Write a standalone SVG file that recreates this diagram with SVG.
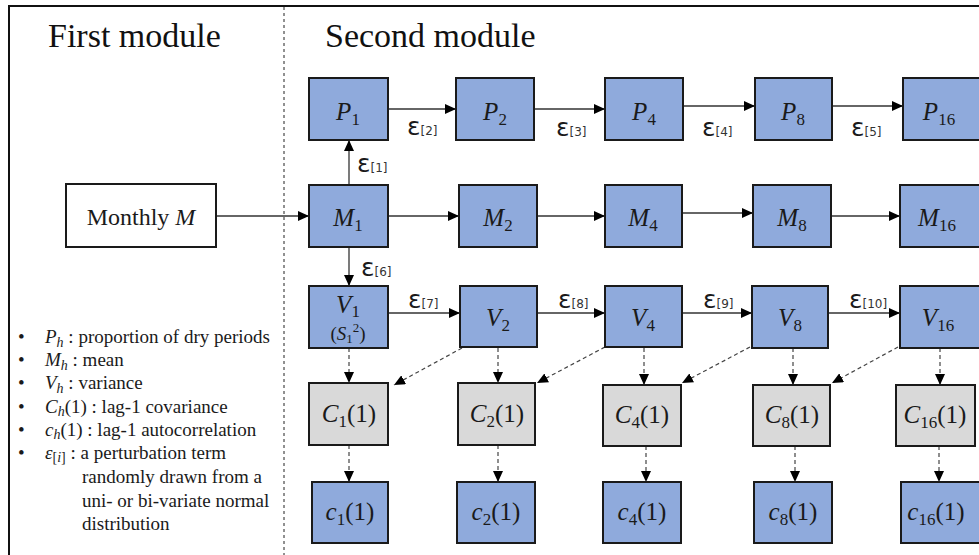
<svg xmlns="http://www.w3.org/2000/svg" width="979" height="555" viewBox="0 0 979 555">
<style>
.frame{stroke:#111;stroke-width:2;fill:none}
.div{stroke:#222;stroke-width:1;stroke-dasharray:3 3;fill:none}
.title{font-family:"Liberation Serif",serif;font-size:34px;fill:#111}
.bx{fill:#8FAADC;stroke:#1a1a1a;stroke-width:2}
.gx{fill:#D9D9D9;stroke:#1a1a1a;stroke-width:2}
.wx{fill:#fff;stroke:#1a1a1a;stroke-width:2}
.lab{font-family:"Liberation Serif",serif;font-size:25px;fill:#1a1a1a;text-anchor:middle}
.it{font-style:italic}
.sub{font-size:17px}
.eps{font-family:"DejaVu Sans",sans-serif;font-size:25px;fill:#1a1a1a}
.eps tspan{font-size:12px;fill:#333}
.ln{stroke:#333;stroke-width:1.3;fill:none}
.dl{stroke:#444;stroke-width:1.2;stroke-dasharray:4 3;fill:none}
.leg{font-family:"Liberation Serif",serif;font-size:19px;fill:#1a1a1a}
</style>
<defs>
<marker id="ah" markerUnits="userSpaceOnUse" markerWidth="12" markerHeight="10" refX="11" refY="5" orient="auto">
<path d="M0,0 L11,5 L0,10 z" fill="#000"/>
</marker>
</defs>

<path class="frame" d="M9,555 L9,6 L979,6"/>
<line class="div" x1="284" y1="7" x2="284" y2="555"/>
<text class="title" x="48" y="47">First module</text>
<text class="title" x="325" y="47">Second module</text>

<g id="connectors">
<line class="ln" x1="216" y1="216" x2="309" y2="216" marker-end="url(#ah)"/>
<line class="ln" x1="349" y1="185" x2="349" y2="140" marker-end="url(#ah)"/>
<line class="ln" x1="349" y1="247" x2="349" y2="286" marker-end="url(#ah)"/>
<line class="ln" x1="388" y1="109" x2="456" y2="109" marker-end="url(#ah)"/>
<line class="ln" x1="534" y1="109" x2="605" y2="109" marker-end="url(#ah)"/>
<line class="ln" x1="683" y1="106" x2="755" y2="106" marker-end="url(#ah)"/>
<line class="ln" x1="832" y1="106" x2="903" y2="106" marker-end="url(#ah)"/>
<line class="ln" x1="388" y1="216" x2="459" y2="216" marker-end="url(#ah)"/>
<line class="ln" x1="537" y1="216" x2="605" y2="216" marker-end="url(#ah)"/>
<line class="ln" x1="682" y1="213" x2="753" y2="213" marker-end="url(#ah)"/>
<line class="ln" x1="831" y1="216" x2="900" y2="216" marker-end="url(#ah)"/>
<line class="ln" x1="388" y1="313" x2="460" y2="313" marker-end="url(#ah)"/>
<line class="ln" x1="537" y1="313" x2="605" y2="313" marker-end="url(#ah)"/>
<line class="ln" x1="682" y1="313" x2="752" y2="313" marker-end="url(#ah)"/>
<line class="ln" x1="828" y1="313" x2="900" y2="313" marker-end="url(#ah)"/>
<line class="dl" x1="349" y1="348" x2="349" y2="383" marker-end="url(#ah)"/>
<line class="dl" x1="498" y1="348" x2="498" y2="383" marker-end="url(#ah)"/>
<line class="dl" x1="644" y1="348" x2="644" y2="385" marker-end="url(#ah)"/>
<line class="dl" x1="793" y1="348" x2="793" y2="385" marker-end="url(#ah)"/>
<line class="dl" x1="940" y1="348" x2="940" y2="385" marker-end="url(#ah)"/>
<line class="dl" x1="349" y1="445" x2="349" y2="482" marker-end="url(#ah)"/>
<line class="dl" x1="498" y1="445" x2="498" y2="482" marker-end="url(#ah)"/>
<line class="dl" x1="646" y1="446" x2="646" y2="482" marker-end="url(#ah)"/>
<line class="dl" x1="795" y1="446" x2="795" y2="482" marker-end="url(#ah)"/>
<line class="dl" x1="939" y1="446" x2="939" y2="482" marker-end="url(#ah)"/>
<line class="dl" x1="462" y1="348" x2="394" y2="385" marker-end="url(#ah)"/>
<line class="dl" x1="605" y1="347" x2="537" y2="383" marker-end="url(#ah)"/>
<line class="dl" x1="750" y1="347" x2="682" y2="383" marker-end="url(#ah)"/>
<line class="dl" x1="898" y1="347" x2="832" y2="383" marker-end="url(#ah)"/>
<text class="eps" x="357" y="172">ε<tspan>[1]</tspan></text>
<text class="eps" x="407" y="135">ε<tspan>[2]</tspan></text>
<text class="eps" x="556" y="136">ε<tspan>[3]</tspan></text>
<text class="eps" x="702" y="136">ε<tspan>[4]</tspan></text>
<text class="eps" x="851" y="136">ε<tspan>[5]</tspan></text>
<text class="eps" x="361" y="276">ε<tspan>[6]</tspan></text>
<text class="eps" x="408" y="308">ε<tspan>[7]</tspan></text>
<text class="eps" x="558" y="308">ε<tspan>[8]</tspan></text>
<text class="eps" x="703" y="308">ε<tspan>[9]</tspan></text>
<text class="eps" x="849" y="308">ε<tspan>[10]</tspan></text>
</g>

<g id="monthly"><rect class="wx" x="66" y="184" width="150" height="63"/>
<text x="141" y="225" style="font-family:'Liberation Serif',serif;font-size:24px;fill:#1a1a1a;text-anchor:middle">Monthly <tspan class="it">M</tspan></text></g>

<g id="P1"><rect class="bx" x="309" y="78" width="79" height="62"/><text class="lab" x="348" y="120"><tspan class="it">P</tspan><tspan class="sub" dy="5">1</tspan></text></g>
<g id="P2"><rect class="bx" x="456" y="78" width="78" height="62"/><text class="lab" x="495" y="120"><tspan class="it">P</tspan><tspan class="sub" dy="5">2</tspan></text></g>
<g id="P4"><rect class="bx" x="605" y="78" width="78" height="62"/><text class="lab" x="644" y="120"><tspan class="it">P</tspan><tspan class="sub" dy="5">4</tspan></text></g>
<g id="P8"><rect class="bx" x="755" y="78" width="77" height="62"/><text class="lab" x="793" y="120"><tspan class="it">P</tspan><tspan class="sub" dy="5">8</tspan></text></g>
<g id="P16"><rect class="bx" x="903" y="78" width="80" height="62"/><text class="lab" x="939" y="120"><tspan class="it">P</tspan><tspan class="sub" dy="5">16</tspan></text></g>

<g id="M1"><rect class="bx" x="309" y="185" width="79" height="62"/><text class="lab" x="348" y="226"><tspan class="it">M</tspan><tspan class="sub" dy="5">1</tspan></text></g>
<g id="M2"><rect class="bx" x="459" y="185" width="78" height="62"/><text class="lab" x="498" y="226"><tspan class="it">M</tspan><tspan class="sub" dy="5">2</tspan></text></g>
<g id="M4"><rect class="bx" x="605" y="185" width="77" height="62"/><text class="lab" x="643" y="226"><tspan class="it">M</tspan><tspan class="sub" dy="5">4</tspan></text></g>
<g id="M8"><rect class="bx" x="753" y="185" width="78" height="62"/><text class="lab" x="792" y="226"><tspan class="it">M</tspan><tspan class="sub" dy="5">8</tspan></text></g>
<g id="M16"><rect class="bx" x="900" y="185" width="83" height="62"/><text class="lab" x="937" y="226"><tspan class="it">M</tspan><tspan class="sub" dy="5">16</tspan></text></g>

<g id="V1"><rect class="bx" x="309" y="286" width="79" height="62"/><text class="lab" x="348" y="313"><tspan class="it">V</tspan><tspan class="sub" dy="4">1</tspan></text>
<text class="lab" x="348" y="340" style="font-size:19px">(<tspan class="it">S</tspan><tspan style="font-size:13px" dy="3">1</tspan><tspan style="font-size:13px" dy="-11">2</tspan><tspan dy="8">)</tspan></text></g>
<g id="V2"><rect class="bx" x="460" y="286" width="77" height="61"/><text class="lab" x="498" y="326"><tspan class="it">V</tspan><tspan class="sub" dy="5">2</tspan></text></g>
<g id="V4"><rect class="bx" x="605" y="286" width="77" height="61"/><text class="lab" x="643" y="326"><tspan class="it">V</tspan><tspan class="sub" dy="5">4</tspan></text></g>
<g id="V8"><rect class="bx" x="752" y="286" width="76" height="62"/><text class="lab" x="790" y="326"><tspan class="it">V</tspan><tspan class="sub" dy="5">8</tspan></text></g>
<g id="V16"><rect class="bx" x="900" y="286" width="83" height="62"/><text class="lab" x="938" y="326"><tspan class="it">V</tspan><tspan class="sub" dy="5">16</tspan></text></g>

<g id="C1"><rect class="gx" x="309" y="383" width="79" height="62"/><text class="lab" x="349" y="422"><tspan class="it">C</tspan><tspan class="sub" dy="5">1</tspan><tspan dy="-5">(1)</tspan></text></g>
<g id="C2"><rect class="gx" x="458" y="383" width="77" height="62"/><text class="lab" x="497" y="422"><tspan class="it">C</tspan><tspan class="sub" dy="5">2</tspan><tspan dy="-5">(1)</tspan></text></g>
<g id="C4"><rect class="gx" x="603" y="385" width="78" height="61"/><text class="lab" x="642" y="423"><tspan class="it">C</tspan><tspan class="sub" dy="5">4</tspan><tspan dy="-5">(1)</tspan></text></g>
<g id="C8"><rect class="gx" x="753" y="385" width="77" height="61"/><text class="lab" x="792" y="423"><tspan class="it">C</tspan><tspan class="sub" dy="5">8</tspan><tspan dy="-5">(1)</tspan></text></g>
<g id="C16"><rect class="gx" x="896" y="385" width="79" height="61"/><text class="lab" x="935" y="423"><tspan class="it">C</tspan><tspan class="sub" dy="5">16</tspan><tspan dy="-5">(1)</tspan></text></g>

<g id="c1"><rect class="bx" x="312" y="482" width="76" height="61"/><text class="lab" x="350" y="520"><tspan class="it">c</tspan><tspan class="sub" dy="5">1</tspan><tspan dy="-5">(1)</tspan></text></g>
<g id="c2"><rect class="bx" x="457" y="482" width="78" height="61"/><text class="lab" x="496" y="520"><tspan class="it">c</tspan><tspan class="sub" dy="5">2</tspan><tspan dy="-5">(1)</tspan></text></g>
<g id="c4"><rect class="bx" x="603" y="482" width="78" height="61"/><text class="lab" x="642" y="520"><tspan class="it">c</tspan><tspan class="sub" dy="5">4</tspan><tspan dy="-5">(1)</tspan></text></g>
<g id="c8"><rect class="bx" x="754" y="482" width="78" height="61"/><text class="lab" x="793" y="520"><tspan class="it">c</tspan><tspan class="sub" dy="5">8</tspan><tspan dy="-5">(1)</tspan></text></g>
<g id="c16"><rect class="bx" x="901" y="482" width="82" height="61"/><text class="lab" x="936" y="520"><tspan class="it">c</tspan><tspan class="sub" dy="5">16</tspan><tspan dy="-5">(1)</tspan></text></g>

<g id="legend" class="leg">
<text x="18" y="343">•</text><text x="45" y="343"><tspan class="it">P</tspan><tspan class="it" font-size="14" dy="4">h</tspan><tspan dy="-4"> : proportion of dry periods</tspan></text>
<text x="18" y="366">•</text><text x="45" y="366"><tspan class="it">M</tspan><tspan class="it" font-size="14" dy="4">h</tspan><tspan dy="-4"> : mean</tspan></text>
<text x="18" y="389">•</text><text x="45" y="389"><tspan class="it">V</tspan><tspan class="it" font-size="14" dy="4">h</tspan><tspan dy="-4"> : variance</tspan></text>
<text x="18" y="413">•</text><text x="45" y="413"><tspan class="it">C</tspan><tspan class="it" font-size="14" dy="3">h</tspan><tspan dy="-3">(1) : lag-1 covariance</tspan></text>
<text x="18" y="436">•</text><text x="45" y="436"><tspan class="it">c</tspan><tspan class="it" font-size="14" dy="3">h</tspan><tspan dy="-3">(1) : lag-1 autocorrelation</tspan></text>
<text x="18" y="459">•</text><text x="45" y="459"><tspan class="it">ε</tspan><tspan font-size="14" dy="3">[<tspan class="it">i</tspan>]</tspan><tspan dy="-3"> : a perturbation term</tspan></text>
<text x="82" y="483">randomly drawn from a</text>
<text x="82" y="507">uni- or bi-variate normal</text>
<text x="82" y="530">distribution</text>
</g>
</svg>
